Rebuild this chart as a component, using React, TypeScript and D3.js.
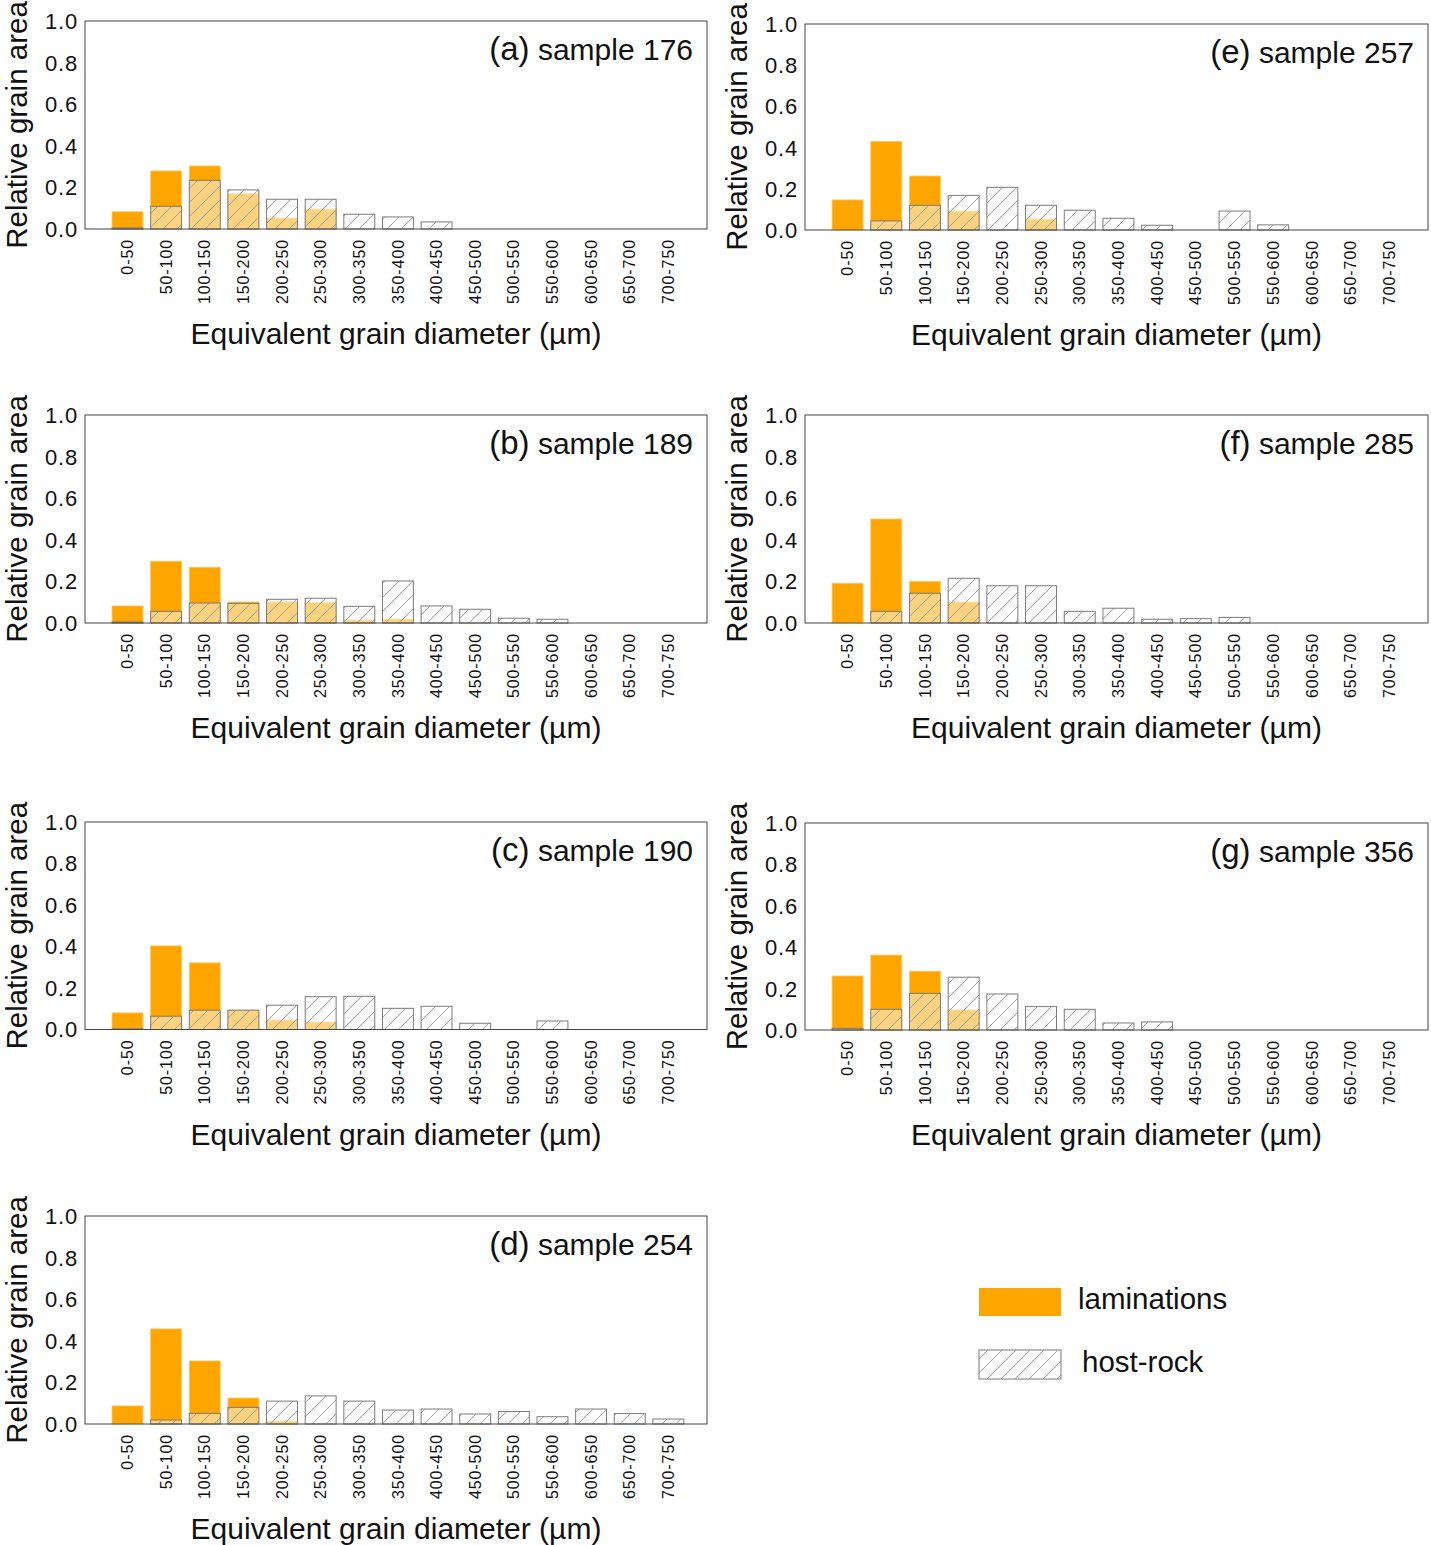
import React from 'react';
import * as d3 from 'd3';

// grain size classes (µm)
const categories = ['0-50', '50-100', '100-150', '150-200', '200-250', '250-300', '300-350', '350-400',
  '400-450', '450-500', '500-550', '550-600', '600-650', '650-700', '700-750'];
const yTicks = [0, 0.2, 0.4, 0.6, 0.8, 1.0];

// relative grain area per class: laminations / host-rock
const lam176 = [0.083, 0.279, 0.303, 0.170, 0.053, 0.096, 0, 0, 0, 0, 0, 0, 0, 0, 0];
const host176 = [0.005, 0.109, 0.234, 0.188, 0.143, 0.143, 0.071, 0.058, 0.034, 0, 0, 0, 0, 0, 0];

const lam189 = [0.082, 0.297, 0.268, 0.101, 0.102, 0.099, 0.014, 0.019, 0, 0, 0, 0, 0, 0, 0];
const host189 = [0.005, 0.056, 0.096, 0.094, 0.114, 0.119, 0.080, 0.202, 0.082, 0.066, 0.023, 0.018, 0, 0, 0];

const lam190 = [0.080, 0.403, 0.321, 0.093, 0.046, 0.036, 0, 0, 0, 0, 0, 0, 0, 0, 0];
const host190 = [0.003, 0.064, 0.093, 0.093, 0.117, 0.158, 0.160, 0.102, 0.112, 0.030, 0, 0.041, 0, 0, 0];

const lam254 = [0.087, 0.457, 0.303, 0.125, 0.014, 0, 0, 0, 0, 0, 0, 0, 0, 0, 0];
const host254 = [0, 0.019, 0.051, 0.080, 0.110, 0.135, 0.110, 0.067, 0.072, 0.048, 0.060, 0.035, 0.072, 0.050, 0.024];

const lam257 = [0.146, 0.430, 0.262, 0.092, 0, 0.053, 0, 0, 0, 0, 0, 0, 0, 0, 0];
const host257 = [0, 0.044, 0.120, 0.168, 0.207, 0.120, 0.096, 0.057, 0.023, 0, 0.092, 0.025, 0, 0, 0];

const lam285 = [0.191, 0.500, 0.200, 0.101, 0, 0, 0, 0, 0, 0, 0, 0, 0, 0, 0];
const host285 = [0, 0.056, 0.143, 0.215, 0.179, 0.179, 0.056, 0.071, 0.018, 0.021, 0.027, 0, 0, 0, 0];

const lam356 = [0.261, 0.362, 0.284, 0.097, 0, 0, 0, 0, 0, 0, 0, 0, 0, 0, 0];
const host356 = [0.008, 0.100, 0.177, 0.255, 0.174, 0.113, 0.100, 0.034, 0.039, 0, 0, 0, 0, 0, 0];

const panels = [
  { tag: '(a)', name: 'sample 176', lam: lam176, host: host176, left: 85, top: 21, w: 622, h: 208 },
  { tag: '(b)', name: 'sample 189', lam: lam189, host: host189, left: 85, top: 415, w: 622, h: 208 },
  { tag: '(c)', name: 'sample 190', lam: lam190, host: host190, left: 85, top: 822, w: 622, h: 207.5 },
  { tag: '(d)', name: 'sample 254', lam: lam254, host: host254, left: 85, top: 1216, w: 622, h: 208 },
  { tag: '(e)', name: 'sample 257', lam: lam257, host: host257, left: 805, top: 24, w: 623, h: 206 },
  { tag: '(f)', name: 'sample 285', lam: lam285, host: host285, left: 805, top: 415, w: 623, h: 208 },
  { tag: '(g)', name: 'sample 356', lam: lam356, host: host356, left: 805, top: 823, w: 623, h: 207 },
];

const FONT = '"Liberation Sans", Arial, Helvetica, sans-serif';
const ORANGE = '#ffa500';

function Panel({ p }) {
  const x = d3.scaleLinear().domain([-1.1, 15]).range([p.left, p.left + p.w]);
  const y = d3.scaleLinear().domain([0, 1]).range([p.top + p.h, p.top]);
  const bw = (x(1) - x(0)) * 0.8;
  const fmt = d3.format('.1f');
  const bottom = y(0);

  return (
    <g>
      {/* lamination bars */}
      {p.lam.map((v, i) => v > 0 && (
        <rect key={'l' + i} x={x(i) - bw / 2} y={y(v)} width={bw} height={bottom - y(v)}
          fill={ORANGE} stroke="#ffc65a" strokeWidth={0.8} />
      ))}
      {/* host-rock bars, drawn over */}
      {p.host.map((v, i) => v > 0 && (
        <g key={'h' + i}>
          <rect x={x(i) - bw / 2} y={y(v)} width={bw} height={bottom - y(v)}
            fill="#ffffff" fillOpacity={0.5} />
          <rect x={x(i) - bw / 2} y={y(v)} width={bw} height={bottom - y(v)}
            fill="url(#hatch)" stroke="#7a7a7a" strokeWidth={1} />
        </g>
      ))}
      {/* frame */}
      <rect x={p.left} y={p.top} width={p.w} height={p.h} fill="none" stroke="#444" strokeWidth={1} />
      {/* y ticks */}
      {yTicks.map(t => (
        <text key={t} x={p.left - 7} y={y(t)} dy="0.36em" textAnchor="end" fontSize={22}
          letterSpacing={0.8} fontFamily={FONT} fill="#111">{fmt(t)}</text>
      ))}
      {/* x tick labels */}
      {categories.map((c, i) => (
        <text key={c} transform={`translate(${x(i)},${bottom + 10}) rotate(-90)`} textAnchor="end"
          dy="0.35em" fontSize={16} letterSpacing={0.9} fontFamily={FONT} fill="#111">{c}</text>
      ))}
      {/* axis titles */}
      <text transform={`translate(${p.left - 58},${p.top + p.h / 2}) rotate(-90)`} textAnchor="middle"
        fontSize={29.5} fontFamily={FONT} fill="#111">Relative grain area</text>
      <text x={p.left + p.w / 2} y={bottom + 115} textAnchor="middle" fontSize={30}
        fontFamily={FONT} fill="#111">Equivalent grain diameter (µm)</text>
      {/* panel label */}
      <text x={p.left + p.w - 14} y={p.top + 39} textAnchor="end" fontFamily={FONT} fill="#111">
        <tspan fontSize={33}>{p.tag}</tspan>
        <tspan fontSize={30}>{' ' + p.name}</tspan>
      </text>
    </g>
  );
}

export default function App() {
  return (
    <svg width={1431} height={1545} style={{ position: 'absolute', left: 0, top: 0, background: '#fff' }}>
      <defs>
        <pattern id="hatch" patternUnits="userSpaceOnUse" width={14} height={14}>
          <path d="M0,14 L14,0 M-3,3 L3,-3 M11,17 L17,11" stroke="#9a9a9a" strokeWidth={0.9} />
        </pattern>
      </defs>
      <rect width={1431} height={1545} fill="#fff" />
      {panels.map(p => <Panel key={p.tag} p={p} />)}
      {/* legend */}
      <rect x={979} y={1288} width={82} height={28} fill={ORANGE} />
      <text x={1078} y={1309} fontSize={29.5} fontFamily={FONT} fill="#111">laminations</text>
      <rect x={979} y={1350} width={82} height={29} fill="url(#hatch)" stroke="#7a7a7a" strokeWidth={1} />
      <text x={1082} y={1372} fontSize={29.5} fontFamily={FONT} fill="#111">host-rock</text>
    </svg>
  );
}
